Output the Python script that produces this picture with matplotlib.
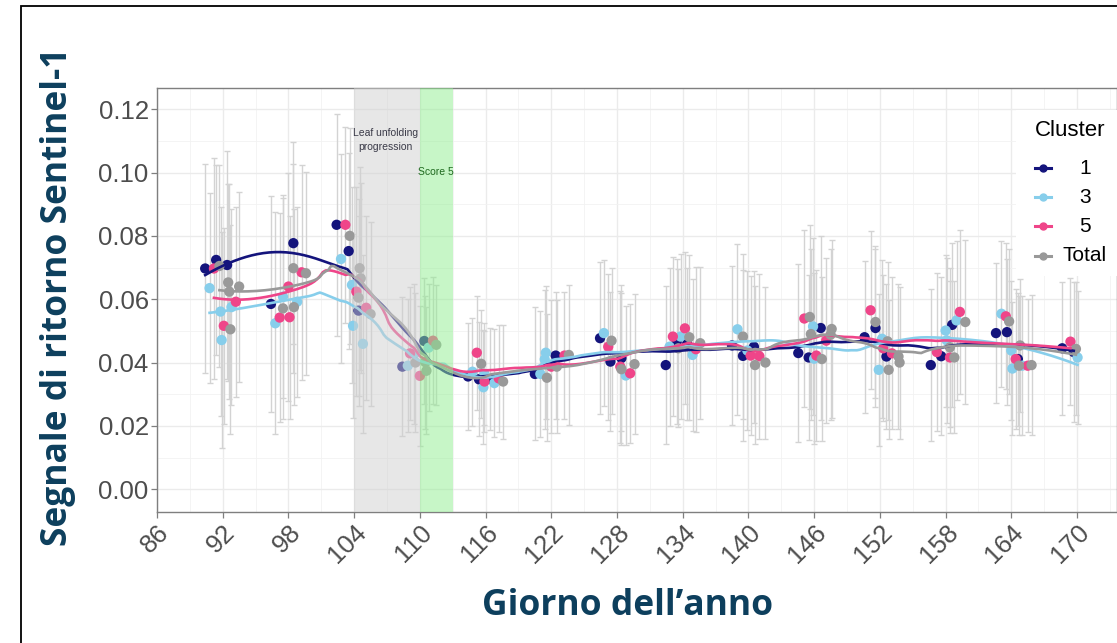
import numpy as np
import matplotlib
matplotlib.use('Agg')
import matplotlib.pyplot as plt
from matplotlib.lines import Line2D
from matplotlib.patches import Rectangle

# Data (day of year, backscatter, error half-width)
c1_x = [90.4, 91.4, 92.4, 96.4, 98.45, 102.4, 103.5, 104.4, 108.4, 110.4, 114.4, 115.4, 116.4,
        120.5, 122.4, 126.45, 127.4, 128.4, 132.45, 133.45, 134.4, 138.5, 139.5, 140.5, 144.55,
        145.5, 146.6, 150.6, 151.6, 152.6, 156.65, 157.6, 158.6, 162.6, 163.6, 164.6, 168.65, 169.7]
c1_y = [0.0697, 0.0724, 0.0708, 0.0585, 0.0777, 0.0835, 0.0752, 0.0564, 0.0387, 0.0468, 0.0356,
        0.0347, 0.0348, 0.0364, 0.0422, 0.0477, 0.0403, 0.0414, 0.0392, 0.0466, 0.0459, 0.0454,
        0.0421, 0.0450, 0.0430, 0.0416, 0.0509, 0.0480, 0.0509, 0.0419, 0.0392, 0.0420, 0.0519,
        0.0493, 0.0496, 0.0411, 0.0445, 0.0433]
c1_e = [0.033, 0.030, 0.036, 0.034, 0.032, 0.035, 0.031, 0.030, 0.022, 0.020, 0.017, 0.018, 0.016,
        0.021, 0.020, 0.024, 0.022, 0.023, 0.025, 0.026, 0.024, 0.025, 0.027, 0.024, 0.028, 0.026,
        0.029, 0.024, 0.025, 0.023, 0.024, 0.025, 0.026, 0.022, 0.023, 0.021, 0.021, 0.022]

c3_x = [90.8, 91.8, 92.8, 91.9, 96.8, 97.5, 98.8, 102.8, 103.8, 103.9, 104.8, 108.9, 109.5, 110.8,
        114.8, 115.8, 115.9, 116.8, 121.0, 121.4, 121.5, 126.8, 128.8, 132.8, 133.8, 134.9, 139.0,
        139.9, 145.9, 146.0, 151.9, 152.2, 158.0, 158.1, 159.0, 163.1, 164.0, 164.1, 165.0, 170.05]
c3_y = [0.0635, 0.0561, 0.0575, 0.0471, 0.0524, 0.0608, 0.0592, 0.0727, 0.0645, 0.0516, 0.0459,
        0.0390, 0.0427, 0.0447, 0.0371, 0.0322, 0.0364, 0.0335, 0.0364, 0.0410, 0.0431, 0.0493,
        0.0359, 0.0450, 0.0482, 0.0424, 0.0505, 0.0438, 0.0514, 0.0412, 0.0377, 0.0475, 0.0501,
        0.0470, 0.0533, 0.0554, 0.0438, 0.0381, 0.0390, 0.0416]
c3_e = [0.030, 0.033, 0.031, 0.034, 0.035, 0.032, 0.030, 0.033, 0.031, 0.029, 0.028, 0.021, 0.022,
        0.020, 0.017, 0.018, 0.016, 0.017, 0.020, 0.022, 0.021, 0.023, 0.022, 0.025, 0.026, 0.024,
        0.027, 0.025, 0.028, 0.027, 0.024, 0.025, 0.024, 0.026, 0.025, 0.023, 0.022, 0.021, 0.022,
        0.021]

c5_x = [91.2, 92.1, 93.2, 97.2, 98.0, 98.1, 99.2, 103.2, 104.2, 105.1, 109.1, 110.0, 111.2, 115.2,
        115.9, 117.2, 122.0, 123.2, 127.2, 128.3, 129.2, 133.1, 134.2, 135.2, 140.2, 141.0, 145.1,
        146.2, 147.1, 151.15, 152.3, 153.1, 157.2, 158.4, 159.3, 163.5, 164.4, 165.5, 169.4]
c5_y = [0.0697, 0.0516, 0.0592, 0.0542, 0.0640, 0.0543, 0.0685, 0.0835, 0.0624, 0.0573, 0.0429,
        0.0358, 0.0469, 0.0431, 0.0340, 0.0350, 0.0387, 0.0422, 0.0450, 0.0387, 0.0366, 0.0482,
        0.0508, 0.0442, 0.0422, 0.0420, 0.0539, 0.0422, 0.0469, 0.0565, 0.0445, 0.0429, 0.0433,
        0.0416, 0.0560, 0.0546, 0.0411, 0.0390, 0.0466]
c5_e = [0.035, 0.031, 0.030, 0.033, 0.036, 0.032, 0.034, 0.031, 0.033, 0.029, 0.021, 0.022, 0.020,
        0.018, 0.016, 0.017, 0.021, 0.020, 0.023, 0.024, 0.022, 0.025, 0.024, 0.026, 0.025, 0.026,
        0.028, 0.027, 0.026, 0.025, 0.023, 0.024, 0.025, 0.024, 0.026, 0.023, 0.022, 0.021, 0.020]

ct_x = [91.7, 92.5, 92.6, 93.5, 92.7, 97.5, 98.45, 98.5, 99.6, 103.6, 104.5, 104.6, 104.4, 105.5,
        109.6, 110.5, 110.6, 111.5, 115.6, 117.6, 121.6, 122.5, 123.6, 127.5, 128.4, 129.6, 133.6,
        134.6, 135.6, 139.5, 140.6, 141.55, 145.6, 145.7, 146.7, 147.6, 147.5, 151.6, 152.7, 153.7,
        153.8, 152.8, 158.4, 158.8, 159.8, 163.8, 164.7, 164.8, 165.85, 169.9]
ct_y = [0.0705, 0.0653, 0.0624, 0.0640, 0.0505, 0.0571, 0.0698, 0.0575, 0.0682, 0.0800, 0.0698,
        0.0666, 0.0605, 0.0553, 0.0400, 0.0401, 0.0374, 0.0456, 0.0396, 0.0340, 0.0352, 0.0387,
        0.0424, 0.0469, 0.0379, 0.0395, 0.0445, 0.0480, 0.0461, 0.0482, 0.0392, 0.0400, 0.0544,
        0.0490, 0.0411, 0.0506, 0.0488, 0.0528, 0.0467, 0.0419, 0.0400, 0.0377, 0.0448, 0.0416,
        0.0528, 0.0530, 0.0390, 0.0454, 0.0392, 0.0443]
ct_e = [0.032, 0.031, 0.034, 0.030, 0.033, 0.035, 0.033, 0.031, 0.032, 0.034, 0.032, 0.030, 0.031,
        0.029, 0.022, 0.021, 0.020, 0.019, 0.017, 0.018, 0.020, 0.021, 0.022, 0.023, 0.024, 0.022,
        0.025, 0.026, 0.024, 0.026, 0.025, 0.024, 0.029, 0.027, 0.026, 0.028, 0.027, 0.024, 0.025,
        0.023, 0.024, 0.022, 0.025, 0.024, 0.026, 0.023, 0.022, 0.021, 0.022, 0.021]

labels = ['1', '3', '5', 'Total']
colors = ['#14147c', '#87ceeb', '#ef4589', '#999999']
series = [(c1_x, c1_y, c1_e), (c3_x, c3_y, c3_e), (c5_x, c5_y, c5_e), (ct_x, ct_y, ct_e)]

phase_gray = (104, 110)
phase_green = (110, 113)


def loess(x, y, xs, span=0.35):
    # local quadratic fit with tricube weights, like geom_smooth(method='loess')
    x = np.asarray(x)
    y = np.asarray(y)
    q = int(np.floor(span * len(x)))
    out = []
    for x0 in xs:
        d = np.abs(x - x0)
        h = np.sort(d)[q - 1]
        w = np.clip(1 - (d / h) ** 3, 0, None) ** 3
        A = np.vstack([np.ones_like(x), x - x0, (x - x0) ** 2]).T
        sw = np.sqrt(w)
        coef = np.linalg.lstsq(A * sw[:, None], y * sw, rcond=None)[0]
        out.append(coef[0])
    return np.array(out)


fig = plt.figure(figsize=(11.17, 6.43), dpi=100)
ax = fig.add_axes([157 / 1117, 131 / 643, 1 - 157 / 1117, 424 / 643])

# grid like theme_bw
ax.set_xlim(86, 173.65)
ax.set_ylim(-0.0072, 0.1267)
ax.set_xticks(np.arange(86, 171, 6))
ax.set_xticks(np.arange(89, 174, 6), minor=True)
ax.set_yticks(np.arange(0, 0.121, 0.02))
ax.set_yticks(np.arange(0.01, 0.121, 0.02), minor=True)
ax.grid(which='major', color='#ebebeb', linewidth=1.0, zorder=0)
ax.grid(which='minor', color='#f2f2f2', linewidth=0.6, zorder=0)
ax.set_axisbelow(True)

for (x, y, e), col in zip(series, colors):
    ax.errorbar(x, y, yerr=e, fmt='none', ecolor='#d3d3d3', elinewidth=1.0,
                capsize=2.2, capthick=1.0, zorder=2)
for (x, y, e), col in zip(series, colors):
    ax.scatter(x, y, s=55, color=col, edgecolors='none', zorder=3)
for (x, y, e), col in zip(series, colors):
    xs = np.linspace(min(x), max(x), 300)
    ax.plot(xs, loess(x, y, xs), color=col, linewidth=1.9, zorder=4)

# phenology phases drawn over the data
ax.axvspan(*phase_gray, color='#d0d0d0', alpha=0.5, linewidth=0, zorder=5)
ax.axvspan(*phase_green, color='#90ee90', alpha=0.5, linewidth=0, zorder=5)
ax.text(106.85, 0.1103, 'Leaf unfolding\nprogression', ha='center', va='center',
        fontsize=7.5, color='#3a3a48', family='Liberation Sans', linespacing=1.5, zorder=6)
ax.text(111.5, 0.1003, 'Score 5', ha='center', va='center', fontsize=7.5,
        color='#1f6a1f', family='Liberation Sans', zorder=6)

for sp in ax.spines.values():
    sp.set_color('#7f7f7f')
    sp.set_linewidth(1.0)
ax.tick_params(which='major', length=4, width=0.9, color='#7f7f7f', labelcolor='#4d4d4d',
               labelsize=18.5, pad=2)
ax.tick_params(which='minor', length=0)
ax.set_yticklabels(['%.2f' % v for v in np.arange(0, 0.121, 0.02)], family='Liberation Sans')
ax.set_xticklabels([str(v) for v in range(86, 171, 6)], family='Liberation Sans',
                   rotation=45, ha='right', va='top', rotation_mode='anchor')

fig.text(58 / 1117, 1 - 297 / 643, 'Segnale di ritorno Sentinel-1', rotation=90,
         ha='center', va='center', fontsize=25.5, fontweight='bold', color='#0d3f5d',
         family='Open Sans')
fig.text(628 / 1117, 1 - 606 / 643, 'Giorno dell\u2019anno', ha='center', va='center',
         fontsize=25.5, fontweight='bold', color='#0d3f5d', family='Open Sans')

# legend, ggplot style with centred labels
fig.patches.append(Rectangle((1016 / 1117, 1 - 276 / 643), 110 / 1117, 166 / 643,
                             transform=fig.transFigure, facecolor='white',
                             edgecolor='none', zorder=10))
fig.text(1035 / 1117, 1 - 130 / 643, 'Cluster', ha='left', va='center', fontsize=16,
         color='black', family='Liberation Sans', zorder=11)
for i, (lab, col) in enumerate(zip(labels, colors)):
    yy = 1 - (168 + 29.2 * i) / 643
    fig.lines.append(Line2D([1035 / 1117, 1051 / 1117], [yy, yy], transform=fig.transFigure,
                            color=col, linewidth=2.2, zorder=11))
    fig.lines.append(Line2D([1043 / 1117], [yy], transform=fig.transFigure, marker='o',
                            markersize=5, color=col, linestyle='none', zorder=11))
    fig.text(1085 / 1117, yy, lab, ha='center', va='center', fontsize=15, color='black',
             family='Liberation Sans', zorder=11)

# outer frame
fig.patches.append(Rectangle((21 / 1117, -0.2), 1.2, 1.2 - 6 / 643, transform=fig.transFigure,
                             facecolor='none', edgecolor='black', linewidth=1.3, zorder=12))

plt.savefig('out.png', dpi=100)
